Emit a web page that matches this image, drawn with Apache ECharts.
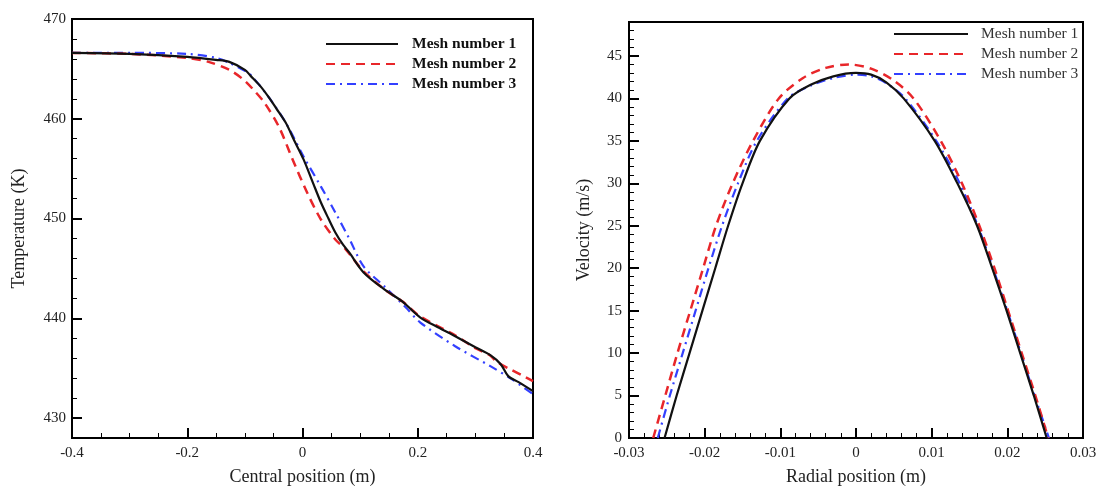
<!DOCTYPE html>
<html>
<head>
<meta charset="utf-8">
<script src="https://cdn.jsdelivr.net/npm/echarts@6/dist/echarts.min.js"></script>
<style>
  html, body { margin: 0; padding: 0; background: #fff; }
  #main { width: 1102px; height: 491px; }
</style>
</head>
<body>
<div id="main"></div>
<script>
// legend names
const meshNames = ['Mesh number 1', 'Mesh number 2', 'Mesh number 3']

// left: temperature along the centre line, [position (m), T (K)]
const tempMesh1 = [
  [-0.4, 466.6], [-0.3, 466.5], [-0.2, 466.2], [-0.15, 465.9], [-0.127, 465.7],
  [-0.1, 464.9], [-0.09, 464.3], [-0.075, 463.4], [-0.059, 462.2], [-0.045, 461.0],
  [-0.029, 459.6], [-0.015, 457.9], [0.002, 455.9], [0.018, 453.6], [0.032, 451.6],
  [0.045, 450.0], [0.057, 448.6], [0.07, 447.4], [0.081, 446.6], [0.106, 444.6],
  [0.142, 442.9], [0.173, 441.7], [0.204, 440.1], [0.235, 439.1], [0.265, 438.2],
  [0.3, 437.1], [0.326, 436.3], [0.344, 435.4], [0.357, 434.2], [0.375, 433.6],
  [0.4, 432.7]
]
const tempMesh2 = [
  [-0.4, 466.6], [-0.3, 466.5], [-0.2, 466.1], [-0.163, 465.7], [-0.127, 464.9],
  [-0.102, 463.9], [-0.085, 462.9], [-0.066, 461.6], [-0.041, 459.2], [-0.017, 455.9],
  [0.008, 452.6], [0.032, 449.9], [0.057, 447.9], [0.075, 446.9], [0.106, 444.7],
  [0.142, 442.9], [0.173, 441.7], [0.204, 440.2], [0.265, 438.3], [0.3, 437.0],
  [0.325, 436.3], [0.338, 435.6], [0.36, 434.9], [0.387, 434.1], [0.4, 433.7]
]
const tempMesh3 = [
  [-0.4, 466.6], [-0.3, 466.6], [-0.2, 466.5], [-0.15, 466.1], [-0.127, 465.6],
  [-0.1, 464.8], [-0.09, 464.4], [-0.059, 462.2], [-0.029, 459.6], [0.002, 456.2],
  [0.032, 453.2], [0.057, 450.6], [0.081, 448.0], [0.106, 445.2], [0.142, 443.2],
  [0.179, 441.1], [0.204, 439.6], [0.265, 437.2], [0.326, 435.2], [0.363, 433.9],
  [0.4, 432.4]
]

// right: velocity across the radius, [position (m), v (m/s)]
const velMesh1 = [
  [-0.0253, 0], [-0.0237, 5], [-0.022, 10], [-0.0203, 15], [-0.0186, 20],
  [-0.0169, 25], [-0.015, 30], [-0.0127, 35], [-0.0088, 40], [-0.006, 41.6],
  [-0.003, 42.6], [0, 43], [0.002, 42.8], [0.004, 41.9], [0.0063, 40],
  [0.0104, 35], [0.0134, 30], [0.016, 25], [0.018, 20], [0.0199, 15],
  [0.0217, 10], [0.0235, 5], [0.0252, 0]
]
const velMesh2 = [
  [-0.0268, 0], [-0.0252, 5], [-0.0236, 10], [-0.0219, 15], [-0.0202, 20],
  [-0.0185, 25], [-0.0163, 30], [-0.0136, 35], [-0.0102, 40], [-0.007, 42.4],
  [-0.004, 43.6], [-0.001, 44], [0.002, 43.5], [0.005, 42.1], [0.0076, 40],
  [0.0112, 35], [0.014, 30], [0.0163, 25], [0.0183, 20], [0.0201, 15],
  [0.0219, 10], [0.0237, 5], [0.0254, 0]
]
const velMesh3 = [
  [-0.0262, 0], [-0.0246, 5], [-0.0229, 10], [-0.0212, 15], [-0.0195, 20],
  [-0.0177, 25], [-0.0156, 30], [-0.0131, 35], [-0.009, 40], [-0.006, 41.5],
  [-0.003, 42.4], [0, 42.8], [0.002, 42.6], [0.004, 41.8], [0.0065, 40],
  [0.0106, 35], [0.0137, 30], [0.0161, 25], [0.0181, 20], [0.02, 15],
  [0.0218, 10], [0.0236, 5], [0.0255, 0]
]

// tick labels
const tempXTicks = [-0.4, -0.2, 0, 0.2, 0.4]
const tempYTicks = [430, 440, 450, 460, 470]
const velXTicks = [-0.03, -0.02, -0.01, 0, 0.01, 0.02, 0.03]
const velYTicks = [0, 5, 10, 15, 20, 25, 30, 35, 40, 45]

const font = 'Liberation Serif'
const lineStyles = [
  { color: '#111', width: 2.2, type: 'solid' },
  { color: '#e8262a', width: 2.5, type: [9, 6] },
  { color: '#3340ff', width: 2.2, type: [9, 5, 2, 5] }
]

function majorAxis(pos, gridIndex, min, max, ticks, name, nameGap, margin) {
  return {
    type: 'value', gridIndex, position: pos, min, max,
    name, nameLocation: 'middle', nameGap,
    nameTextStyle: { fontFamily: font, fontSize: 18, color: '#222' },
    axisLine: { show: true, onZero: false, lineStyle: { color: '#000', width: 2 } },
    axisTick: { show: true, inside: true, length: 10, customValues: ticks, lineStyle: { color: '#000', width: 2 } },
    axisLabel: { customValues: ticks, fontFamily: font, fontSize: 15, color: '#222', margin },
    splitLine: { show: false }
  }
}

function minorAxis(pos, gridIndex, min, max, interval) {
  return {
    type: 'value', gridIndex, position: pos, min, max, interval,
    axisLine: { show: false, onZero: false },
    axisTick: { show: true, inside: true, length: 5, lineStyle: { color: '#000', width: 1 } },
    axisLabel: { show: false },
    splitLine: { show: false }
  }
}

function makeSeries(datas, xi, yi) {
  return datas.map((d, i) => ({
    name: meshNames[i],
    type: 'line',
    xAxisIndex: xi,
    yAxisIndex: yi,
    data: d,
    symbol: 'none',
    smooth: 0.3,
    lineStyle: lineStyles[i],
    itemStyle: { color: lineStyles[i].color },
    z: 3 - i
  }))
}

const chart = echarts.init(document.getElementById('main'))
chart.setOption({
  animation: false,
  backgroundColor: '#fff',
  grid: [
    { left: 72, top: 19, width: 461, height: 420, show: true, borderColor: '#000', borderWidth: 2 },
    { left: 629, top: 22, width: 454, height: 417, show: true, borderColor: '#000', borderWidth: 2 }
  ],
  legend: [
    {
      data: meshNames, orient: 'vertical', left: 320, top: 31, itemWidth: 72, itemHeight: 14, itemGap: 4,
      itemStyle: { opacity: 0 },
      textStyle: { fontFamily: font, fontSize: 15.5, fontWeight: 'bold', color: '#111', padding: [0, 0, 0, 9] }
    },
    {
      data: meshNames, orient: 'vertical', left: 888, top: 21, itemWidth: 74, itemHeight: 14, itemGap: 4,
      itemStyle: { opacity: 0 },
      textStyle: { fontFamily: font, fontSize: 15.5, color: '#333', padding: [0, 0, 0, 8] }
    }
  ],
  xAxis: [
    majorAxis('bottom', 0, -0.4, 0.4, tempXTicks, 'Central position (m)', 30, 8),
    minorAxis('bottom', 0, -0.4, 0.4, 0.05),
    majorAxis('bottom', 1, -0.03, 0.03, velXTicks, 'Radial position (m)', 30, 8),
    minorAxis('bottom', 1, -0.03, 0.03, 0.002)
  ],
  yAxis: [
    majorAxis('left', 0, 428, 470, tempYTicks, 'Temperature (K)', 44, 6),
    minorAxis('left', 0, 428, 470, 2),
    majorAxis('left', 1, 0, 49, velYTicks, 'Velocity (m/s)', 36, 7),
    minorAxis('left', 1, 0, 49, 1)
  ],
  series: [
    ...makeSeries([tempMesh1, tempMesh2, tempMesh3], 0, 0),
    ...makeSeries([velMesh1, velMesh2, velMesh3], 2, 2)
  ]
})
</script>
</body>
</html>
